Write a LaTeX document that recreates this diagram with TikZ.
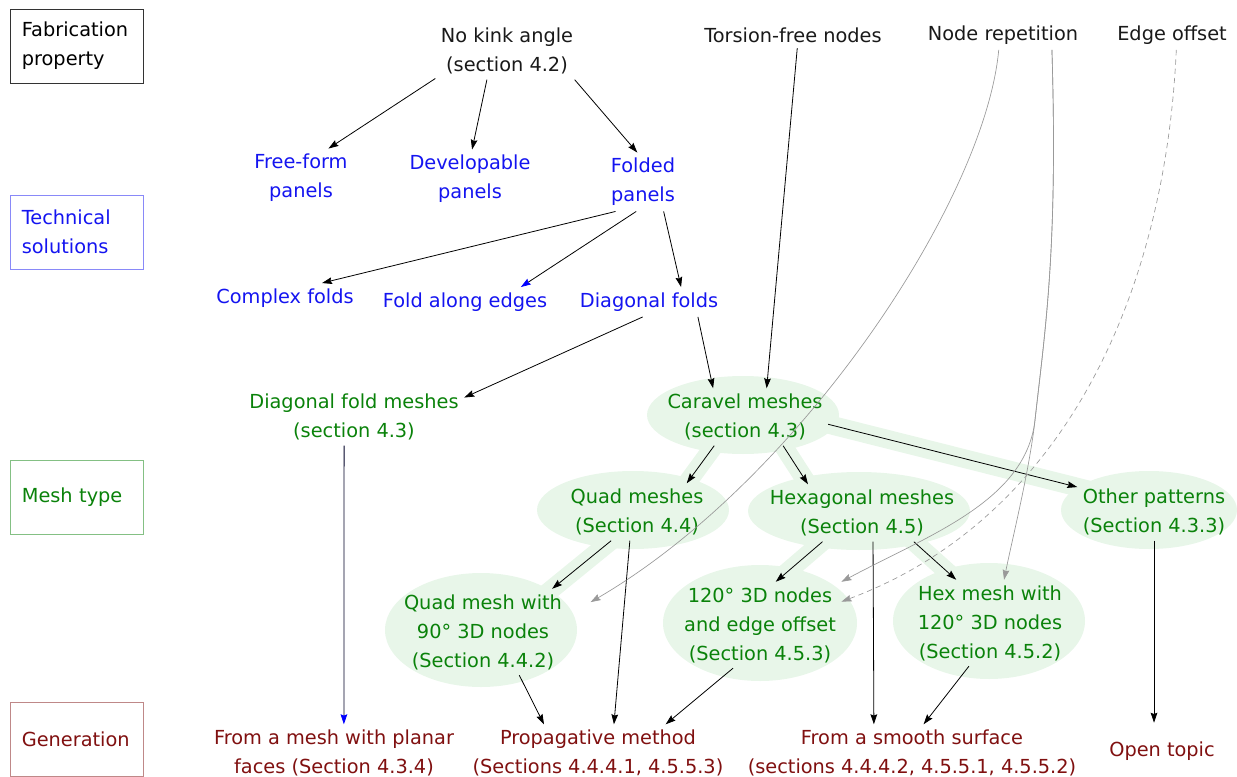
\documentclass[tikz,border=0pt]{standalone}
\usepackage{fontspec}
\setmainfont{DejaVu Sans}
\usetikzlibrary{arrows.meta,backgrounds}
\definecolor{techblue}{RGB}{20,20,240}
\definecolor{meshgreen}{RGB}{10,130,10}
\definecolor{gendark}{RGB}{128,16,16}
\definecolor{meshbg}{RGB}{232,246,233}
\newcommand\lblfont{\fontsize{14.5pt}{21.75pt}\selectfont}
\tikzset{
  lbl/.style={font=\lblfont, align=center, inner sep=4pt},
  prop/.style={lbl, text=black!90},
  tech/.style={lbl, text=techblue},
  mesh/.style={lbl, text=meshgreen},
  gen/.style={lbl, text=gendark},
  cat/.style={draw, font=\lblfont, minimum width=99.75pt, minimum height=55.5pt, text width=82pt, align=left, inner xsep=0pt},
  arr/.style={line width=0.6pt, -{Stealth[length=7.5pt,width=5pt,inset=1pt]}},
  bluetip/.style={-{Stealth[length=7.5pt,width=5pt,inset=1pt,color=blue]}},
  grayarr/.style={line width=0.5pt, draw=black!40, -{Stealth[length=7.5pt,width=5pt,inset=1pt]}},
  band/.style={line width=14pt, draw=meshbg, shorten <=-12pt, shorten >=-12pt},
}

\begin{document}
\begin{tikzpicture}[x=0.75pt, y=-0.75pt]
\useasboundingbox (0,0) rectangle (1237,777);

% row labels
\node[cat, draw=black!80] (fabcat) at (76.5,46) {Fabrication\\property};
\node[cat, draw=techblue!50, text=techblue] (techcat) at (76.5,232) {Technical\\solutions};
\node[cat, draw=meshgreen!50, text=meshgreen] (meshcat) at (76.5,497) {Mesh type};
\node[cat, draw=gendark!50, text=gendark] (gencat) at (76.5,739.5) {Generation};

% fabrication properties
\node[prop] (nokink) at (507,51) {No kink angle\\(section 4.2)};
\node[prop] (torsion) at (793,35) {Torsion-free nodes};
\node[prop] (noderep) at (1003,35) {Node repetition};
\node[prop] (edgeoff) at (1172,35) {Edge offset};

% technical solutions
\node[tech] (freeform) at (301,178) {Free-form\\panels};
\node[tech] (developable) at (470,179) {Developable\\panels};
\node[tech] (folded) at (643,182) {Folded\\panels};
\node[tech] (complexf) at (285,298) {Complex folds};
\node[tech] (alongedges) at (465,302) {Fold along edges};
\node[tech] (diagfolds) at (649,302) {Diagonal folds};

% mesh types
\node[mesh] (diagmeshes) at (354,417) {Diagonal fold meshes\\(section 4.3)};
\node[mesh] (caravel) at (745,417) {Caravel meshes\\(section 4.3)};
\node[mesh] (quad) at (637,512) {Quad meshes\\(Section 4.4)};
\node[mesh] (hexagonal) at (862,513) {Hexagonal meshes\\(Section 4.5)};
\node[mesh] (other) at (1154,512) {Other patterns\\(Section 4.3.3)};
\node[mesh] (quadninety) at (483,632) {Quad mesh with\\90° 3D nodes\\(Section 4.4.2)};
\node[mesh] (hexoffset) at (760,625) {120° 3D nodes\\and edge offset\\(Section 4.5.3)};
\node[mesh] (hexhundred) at (990,623) {Hex mesh with\\120° 3D nodes\\(Section 4.5.2)};

% generation
\node[gen] (planar) at (334,753) {From a mesh with planar\\faces (Section 4.3.4)};
\node[gen] (propag) at (598,753) {Propagative method\\(Sections 4.4.4.1, 4.5.5.3)};
\node[gen] (smooth) at (912,753) {From a smooth surface\\(sections 4.4.4.2, 4.5.5.1, 4.5.5.2)};
\node[gen] (opentopic) at (1162,751) {Open topic};

% green highlights
\begin{scope}[on background layer]
\draw[band] (caravel.223) -- (quad.30);
\draw[band] (caravel.323) -- (hexagonal.152);
\draw[band] (caravel.355) -- (other.162);
\draw[band] (quad.228) -- (quadninety.32);
\draw[band] (hexagonal.216) -- (hexoffset.70);
\draw[band] (hexagonal.331) -- (hexhundred.128);
\foreach \n/\sx/\rx/\ry in {caravel/-2/96/39, quad/-4/96/39, hexagonal/-3/111/39, other/-5/88/39,
    quadninety/-2/96/57, hexoffset/0/97/58, hexhundred/-1/96/58}
  \fill[meshbg] ([xshift=\sx*0.75pt, yshift=1.5pt]\n) ellipse [x radius=\rx*0.75pt, y radius=\ry*0.75pt];
\end{scope}

% edges
\draw[arr] (nokink.201) -- (freeform.47);
\draw[arr] (nokink.235) -- (developable.86);
\draw[arr] (nokink.337) -- (folded.101);
\draw[arr] (folded.227) -- (complexf.22);
\draw[arr, bluetip] (folded.257) -- (alongedges.15);
\draw[arr] (folded.305) -- (diagfolds.25);
\draw[arr] (diagfolds.247) -- (diagmeshes.10);
\draw[arr] (diagfolds.343) -- (caravel.138);
\draw[arr] (torsion.288) -- (caravel.53);
\draw[arr] (caravel.223) -- (quad.30);
\draw[arr] (caravel.323) -- (hexagonal.152);
\draw[arr] (caravel.355) -- (other.162);
\draw[arr] (quad.228) -- (quadninety.32);
\draw[arr] (quad.256) -- (propag.61);
\draw[arr, bluetip, draw=blue!15!black] (diagmeshes.251) -- (planar.71);
\draw[arr] (hexagonal.216) -- (hexoffset.70);
\draw[arr] (hexagonal.331) -- (hexhundred.128);
\draw[arr] (hexagonal.291) -- (smooth.143);
\draw[arr] (quadninety.310) -- (propag.152);
\draw[arr] (hexoffset.238) -- (propag.23);
\draw[arr] (hexhundred.244) -- (smooth.68);
\draw[arr, shorten >=10pt] (other.south) -- (other.south |- opentopic.north);

% gray links
\coordinate (nrsplit) at (1035,420);
\draw[grayarr, shorten >=20pt] (noderep.254) .. controls (985,200) and (800,480) .. (quadninety.11);
\draw[grayarr] (noderep.343) .. controls (1058,250) and (1045,330) .. (nrsplit)
  .. controls (1029.5,470) and (1012,540) .. (hexhundred.72);
\draw[grayarr] (noderep.343) .. controls (1058,250) and (1045,330) .. (nrsplit)
  .. controls (1026,501) and (929,535) .. (hexoffset.north east);
\draw[grayarr, dash pattern=on 4pt off 3pt] (edgeoff.286) .. controls (1165,300) and (1060,520) .. (hexoffset.16);
\end{tikzpicture}
\end{document}
